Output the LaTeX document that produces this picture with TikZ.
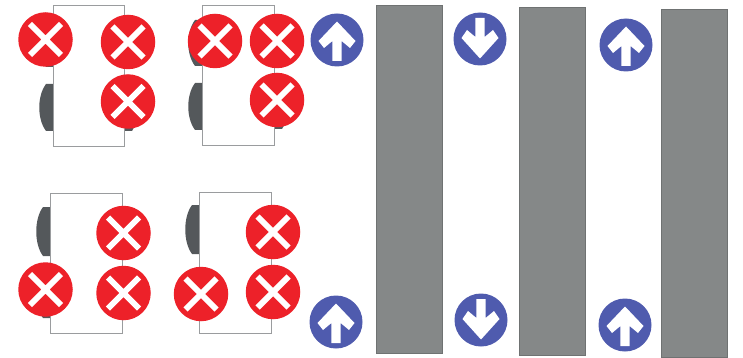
\documentclass[tikz,border=0pt]{standalone}
\definecolor{redc}{HTML}{ED2129}
\definecolor{bluec}{HTML}{4F5BAE}
\definecolor{wall}{HTML}{858888}
\definecolor{walledge}{HTML}{6F7272}
\definecolor{wheelc}{HTML}{54585B}
\definecolor{bodyc}{HTML}{9A9C9E}
\tikzset{
  x=1pt,y=-1pt,
  botbody/.style={draw=bodyc,line width=1.4pt,fill=white},
  wheelshape/.style={fill=wheelc,draw=none},
  wallbox/.style={draw=walledge,line width=1pt,fill=wall},
  crossmark/.style={circle,fill=redc,draw=none,minimum size=54.5pt,inner sep=0pt,
    path picture={
      \draw[white,line width=6pt]
        ([shift={(-15.5,-15.5)}]path picture bounding box.center) -- ([shift={(15.5,15.5)}]path picture bounding box.center)
        ([shift={(15.5,-15.5)}]path picture bounding box.center) -- ([shift={(-15.5,15.5)}]path picture bounding box.center);
    }},
  uparrow/.style={circle,fill=bluec,draw=none,minimum size=53pt,inner sep=0pt,
    path picture={
      \fill[white,shift={(path picture bounding box.center)}]
        (-4.6,21) -- (4.6,21) -- (4.6,1) -- (13,8) -- (18.5,1) -- (0,-18.5) -- (-18.5,1) -- (-13,8) -- (-4.6,1) -- cycle;
    }},
  downarrow/.style={circle,fill=bluec,draw=none,minimum size=53pt,inner sep=0pt,
    path picture={
      \fill[white,shift={(path picture bounding box.center)}]
        (-4.6,-21) -- (4.6,-21) -- (4.6,-2) -- (13,-9) -- (18.5,-1) -- (0,19.5) -- (-18.5,-1) -- (-13,-9) -- (-4.6,-2) -- cycle;
    }},
}
\newcommand{\wheelL}[3]{% x of body edge, top, bottom
  \fill[wheelshape] (#1+0.5,#2) -- (#1-7,#2) .. controls (#1-16,#2+12) and (#1-16,#3-12) .. (#1-7,#3) -- (#1+0.5,#3) -- cycle;}
\newcommand{\wheelR}[3]{%
  \fill[wheelshape] (#1-0.5,#2) -- (#1+8,#2) .. controls (#1+16,#2+12) and (#1+16,#3-12) .. (#1+8,#3) -- (#1-0.5,#3) -- cycle;}
\begin{document}
\begin{tikzpicture}
\useasboundingbox (0,0) rectangle (743,358);
% wheels and bodies
\wheelL{53}{20}{67}\wheelL{53}{84}{131}\wheelR{124}{84}{131}
\wheelL{202}{20}{66}\wheelL{202}{83}{130}\wheelR{274}{83}{129}
\wheelL{50}{207}{256}\wheelL{50}{271}{318}
\wheelL{199}{205}{254}
\node[botbody,minimum width=71pt,minimum height=141pt,inner sep=0pt,anchor=north west] (botA) at (53,5) {};
\node[botbody,minimum width=72pt,minimum height=140pt,inner sep=0pt,anchor=north west] (botB) at (202,5) {};
\node[botbody,minimum width=72pt,minimum height=140pt,inner sep=0pt,anchor=north west] (botC) at (50,193) {};
\node[botbody,minimum width=72pt,minimum height=141pt,inner sep=0pt,anchor=north west] (botD) at (199,192) {};
% crosses
\node[crossmark] (xa) at (45.5,39.5) {};
\node[crossmark] (xb) at (128,42) {};
\node[crossmark] (xc) at (128,101.5) {};
\node[crossmark] (xd) at (215,41) {};
\node[crossmark] (xe) at (277,41) {};
\node[crossmark] (xf) at (277,100) {};
\node[crossmark] (xg) at (123.5,233) {};
\node[crossmark] (xh) at (45.5,289.5) {};
\node[crossmark] (xi) at (123.5,293) {};
\node[crossmark] (xj) at (273,232) {};
\node[crossmark] (xk) at (201,294) {};
\node[crossmark] (xl) at (273,292) {};
% walls
\node[wallbox,minimum width=66pt,minimum height=348pt,inner sep=0pt,anchor=north west] (wallA) at (376,5) {};
\node[wallbox,minimum width=66pt,minimum height=348pt,inner sep=0pt,anchor=north west] (wallB) at (519,7) {};
\node[wallbox,minimum width=66pt,minimum height=348pt,inner sep=0pt,anchor=north west] (wallC) at (661,9) {};
% arrows
\node[uparrow] (ua) at (337,40) {};
\node[downarrow] (da) at (480,39) {};
\node[uparrow] (ub) at (626,45) {};
\node[uparrow] (uc) at (336,322) {};
\node[downarrow] (db) at (481,320) {};
\node[uparrow] (ud) at (625,325) {};
\end{tikzpicture}
\end{document}
